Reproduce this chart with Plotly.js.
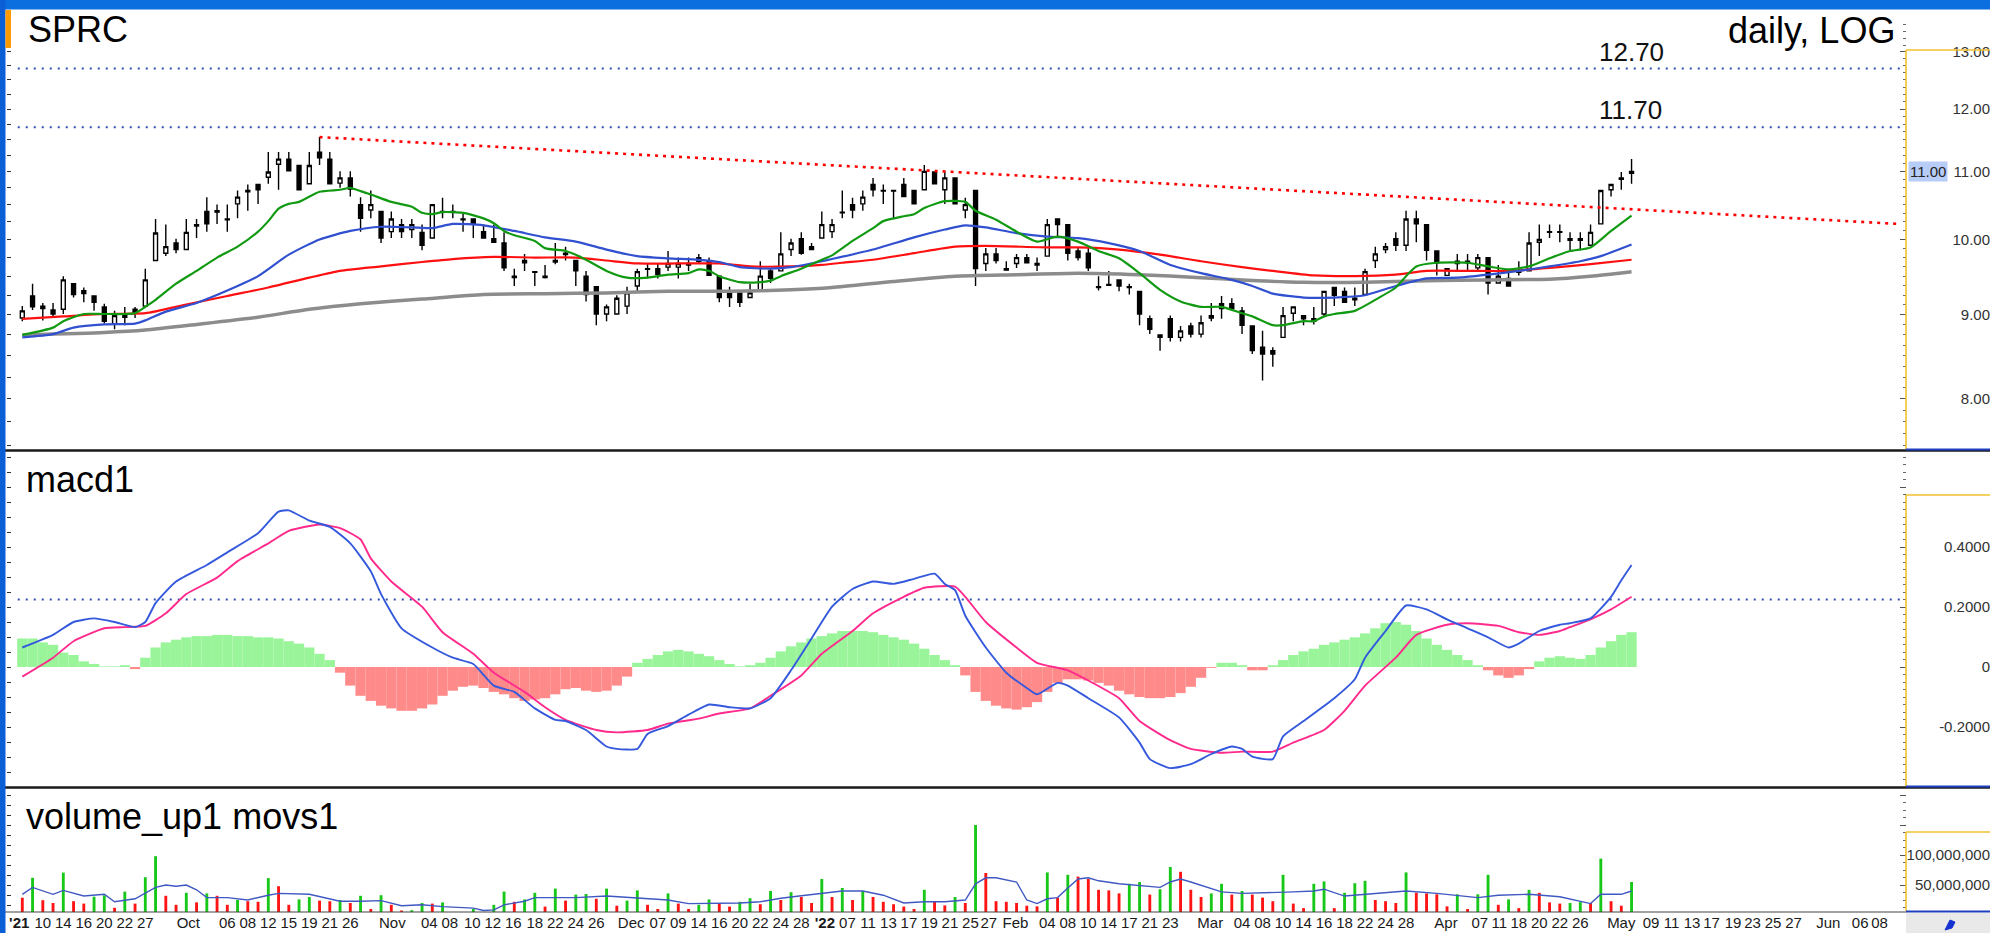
<!DOCTYPE html>
<html><head><meta charset="utf-8">
<script src="https://cdn.plot.ly/plotly-3.0.1.min.js"></script>
<style>html,body{margin:0;padding:0;overflow:hidden;background:#fff;width:1990px;height:933px}#chart{width:1990px;height:933px}</style>
</head><body><div id="chart"></div>
<script>
// ---------------- DATA (bar index 0 = first session shown) ----------------
const openP = [8.96,9.24,9.11,9.06,9.07,9.40,9.31,9.24,9.10,8.89,
8.97,9.07,9.11,9.71,9.81,9.95,9.86,10.21,10.40,10.41,
10.29,10.51,10.71,10.80,10.91,11.11,11.19,11.09,10.81,11.30,
11.19,10.82,10.90,10.50,10.42,10.40,10.11,10.21,10.14,10.10,
10.02,10.40,10.40,10.29,10.29,10.11,10.01,9.95,9.50,9.68,
9.56,9.50,9.71,9.81,9.71,9.50,9.36,9.01,9.01,9.11,
9.37,9.60,9.60,9.62,9.62,9.67,9.70,9.70,9.50,9.28,
9.28,9.22,9.31,9.57,9.57,9.86,10.01,9.90,10.02,10.11,
10.39,10.50,10.51,10.80,10.71,10.71,10.80,10.71,10.72,10.99,
10.72,10.90,10.42,10.71,9.67,9.80,9.60,9.67,9.75,9.67,
9.77,10.29,10.21,9.84,9.81,9.36,9.39,9.45,9.36,9.30,
8.95,8.72,8.95,8.72,8.86,8.76,8.96,9.14,9.14,9.05,
8.86,8.60,8.56,8.72,9.02,8.99,8.92,9.01,9.35,9.30,
9.21,9.26,9.71,9.86,10.01,9.92,10.29,10.21,9.84,9.51,
9.67,9.70,9.61,9.75,9.41,9.47,9.57,9.57,9.96,10.11,
10.11,10.01,10.01,9.92,10.22,10.72,10.88,10.97];
const highP = [9.11,9.40,9.15,9.15,9.50,9.41,9.35,9.24,9.14,9.05,
9.10,9.10,9.60,10.29,10.21,10.01,10.29,10.29,10.61,10.50,
10.50,10.71,10.80,10.80,11.30,11.30,11.30,11.09,11.30,11.54,
11.30,11.00,11.00,10.61,10.71,10.41,10.40,10.29,10.29,10.21,
10.50,10.60,10.50,10.39,10.29,10.21,10.21,10.10,9.60,9.80,
9.56,9.65,9.95,9.90,9.71,9.57,9.36,9.13,9.25,9.36,
9.60,9.67,9.67,9.84,9.75,9.75,9.80,9.75,9.50,9.36,
9.28,9.40,9.70,9.61,10.10,10.01,10.10,9.95,10.40,10.29,
10.71,10.60,10.71,10.90,10.80,10.71,10.90,10.71,11.10,10.99,
11.00,10.90,10.60,10.71,9.88,9.88,9.70,9.80,9.80,9.75,
10.29,10.29,10.21,9.88,9.88,9.50,9.57,9.45,9.40,9.30,
8.99,8.75,8.99,8.86,8.90,8.99,9.15,9.24,9.21,9.10,
8.86,8.80,8.60,9.10,9.10,8.99,9.10,9.30,9.35,9.35,
9.35,9.60,9.90,9.95,10.10,10.41,10.41,10.21,9.84,9.60,
9.80,9.80,9.80,9.75,9.65,9.57,9.70,10.10,10.21,10.21,
10.21,10.10,10.10,10.21,10.71,10.80,10.99,11.19];
const lowP = [8.92,9.06,8.93,8.98,9.01,9.22,9.16,9.05,8.89,8.82,
8.87,8.96,9.09,9.70,9.77,9.81,9.85,10.02,10.11,10.22,
10.11,10.30,10.41,10.51,10.81,10.72,11.01,10.72,10.81,11.10,
10.81,10.75,10.62,10.11,10.30,9.95,10.02,10.02,10.02,9.85,
10.02,10.30,10.30,10.11,10.02,10.02,9.96,9.57,9.37,9.57,
9.37,9.47,9.66,9.71,9.37,9.17,8.87,8.92,9.01,9.01,
9.30,9.47,9.47,9.57,9.47,9.57,9.67,9.51,9.16,9.10,
9.10,9.22,9.31,9.41,9.57,9.77,9.79,9.86,10.02,10.02,
10.30,10.30,10.41,10.62,10.51,10.30,10.62,10.51,10.72,10.81,
10.51,10.51,10.30,9.37,9.57,9.67,9.58,9.61,9.68,9.57,
9.77,10.02,9.71,9.71,9.57,9.31,9.37,9.30,9.26,8.87,
8.76,8.56,8.67,8.67,8.72,8.72,8.92,8.95,9.05,8.76,
8.52,8.21,8.37,8.72,8.92,8.87,8.88,8.97,9.11,9.16,
9.11,9.26,9.61,9.81,9.84,9.84,9.96,9.71,9.51,9.51,
9.57,9.57,9.57,9.26,9.41,9.37,9.51,9.57,9.77,10.02,
9.96,9.85,9.85,9.92,10.22,10.62,10.72,10.81];
const closeP = [9.05,9.10,9.08,9.01,9.45,9.26,9.27,9.16,8.92,8.99,
9.00,9.02,9.45,10.09,9.90,9.86,10.10,10.19,10.22,10.39,
10.28,10.61,10.69,10.72,10.99,11.19,11.01,10.72,11.09,11.21,
10.81,10.90,10.73,10.30,10.50,10.02,10.29,10.11,10.21,9.92,
10.50,10.39,10.39,10.28,10.22,10.02,9.96,9.61,9.48,9.71,
9.55,9.48,9.69,9.79,9.57,9.26,9.01,9.10,9.21,9.28,
9.56,9.59,9.52,9.67,9.67,9.65,9.75,9.51,9.22,9.22,
9.16,9.28,9.50,9.47,9.80,9.95,9.81,9.86,10.21,10.21,
10.38,10.42,10.61,10.72,10.70,10.70,10.62,10.51,11.00,10.81,
10.90,10.51,10.50,9.60,9.80,9.71,9.58,9.75,9.68,9.65,
10.21,10.21,9.81,9.75,9.61,9.35,9.38,9.37,9.35,9.01,
8.82,8.75,8.72,8.80,8.76,8.90,8.99,9.08,9.08,8.87,
8.56,8.52,8.52,8.99,9.10,8.95,8.95,9.30,9.25,9.16,
9.19,9.56,9.80,9.90,9.92,10.29,10.22,9.85,9.68,9.60,
9.70,9.68,9.75,9.41,9.50,9.37,9.55,9.95,10.00,10.10,
10.10,9.99,9.99,10.10,10.71,10.80,10.90,11.00];

// moving averages (bar index, price)
const maGreenX = [0,3,4,6,8,11,12,13,15,17,19,21,23,24,25,26,27,29,31,32,33,34,36,38,39,40,41,43,45,46,47,48,50,51,53,54,55,57,59,61,63,65,66,67,68,70,72,73,74,76,78,79,81,83,84,86,87,88,90,92,93,95,97,99,101,103,105,107,109,111,113,115,117,119,120,122,123,125,126,127,128,130,132,134,135,136,138,141,143,145,147,149,151,153,155,157];
const maGreenY = [8.75,8.84,8.92,9.01,9.01,9.02,9.10,9.19,9.40,9.57,9.75,9.90,10.11,10.26,10.44,10.51,10.54,10.69,10.72,10.75,10.70,10.65,10.54,10.47,10.38,10.36,10.39,10.38,10.30,10.23,10.12,10.06,9.98,9.88,9.84,9.79,9.72,9.57,9.48,9.48,9.52,9.54,9.59,9.57,9.50,9.42,9.42,9.44,9.50,9.60,9.72,9.78,9.98,10.16,10.26,10.33,10.36,10.45,10.55,10.54,10.41,10.28,10.11,9.97,10.04,9.97,9.84,9.74,9.54,9.32,9.17,9.10,9.10,9.02,8.98,8.87,8.87,8.92,8.92,8.98,9.01,9.05,9.19,9.35,9.50,9.63,9.68,9.68,9.63,9.59,9.63,9.74,9.84,9.89,10.12,10.34];
const maBlueX = [0,3,5,8,11,12,14,17,20,23,26,29,32,35,38,40,42,45,48,51,54,57,60,63,66,68,70,73,75,78,79,83,87,90,92,94,97,100,103,106,109,112,115,118,120,122,125,128,131,134,137,140,143,146,149,152,154,157];
const maBlueY = [8.72,8.76,8.84,8.88,8.89,8.93,9.04,9.15,9.31,9.50,9.79,10.00,10.12,10.18,10.17,10.16,10.22,10.20,10.12,10.03,9.97,9.86,9.77,9.74,9.72,9.69,9.62,9.60,9.62,9.70,9.73,9.86,10.03,10.14,10.20,10.17,10.09,10.04,10.02,9.95,9.84,9.65,9.54,9.45,9.37,9.27,9.22,9.22,9.25,9.37,9.47,9.48,9.52,9.57,9.63,9.70,9.77,9.93];
const maRedX = [0,4,8,12,16,20,24,28,31,35,39,42,46,50,54,57,60,64,68,71,75,78,80,83,87,91,94,100,103,107,111,115,119,122,126,130,134,137,141,145,149,153,157];
const maRedY = [8.95,8.98,9.01,9.02,9.13,9.24,9.35,9.48,9.57,9.63,9.69,9.73,9.76,9.75,9.75,9.71,9.67,9.67,9.67,9.63,9.63,9.65,9.68,9.72,9.81,9.90,9.91,9.89,9.89,9.86,9.79,9.70,9.62,9.57,9.51,9.50,9.52,9.57,9.57,9.57,9.61,9.66,9.72];
const maGreyX = [0,8,12,17,23,28,33,39,45,51,57,63,69,75,79,85,91,97,103,109,115,119,125,131,137,143,149,153,157];
const maGreyY = [8.75,8.78,8.81,8.88,8.97,9.07,9.14,9.20,9.26,9.27,9.28,9.30,9.30,9.32,9.35,9.43,9.50,9.52,9.54,9.52,9.48,9.45,9.42,9.42,9.44,9.45,9.46,9.50,9.56];

// horizontal price levels and the falling trendline
const priceLevels = [12.70, 11.70];
const trendX = [29, 183];
const trendY = [11.54, 10.22];

// MACD
const macdX = [0,3,5,7,9,11,12,13,15,18,20,23,25,26,28,30,32,34,35,37,40,42,44,46,48,50,52,53,55,57,58,60,61,63,65,67,69,71,73,75,77,79,81,83,85,87,89,90,91,92,94,96,98,99,101,102,104,107,109,110,112,114,116,118,119,120,122,123,125,128,130,131,133,135,137,139,141,143,145,146,148,150,151,153,155,156,157];
const macdY = [0.065,0.107,0.150,0.162,0.150,0.133,0.150,0.213,0.285,0.340,0.382,0.446,0.518,0.522,0.488,0.467,0.412,0.319,0.243,0.129,0.065,0.031,0.010,-0.062,-0.083,-0.138,-0.176,-0.180,-0.210,-0.265,-0.273,-0.273,-0.223,-0.197,-0.159,-0.125,-0.134,-0.138,-0.104,-0.011,0.095,0.201,0.260,0.285,0.277,0.294,0.311,0.277,0.256,0.171,0.065,-0.019,-0.070,-0.091,-0.053,-0.062,-0.104,-0.168,-0.252,-0.307,-0.337,-0.324,-0.290,-0.265,-0.273,-0.299,-0.307,-0.231,-0.180,-0.104,-0.041,0.031,0.120,0.205,0.192,0.159,0.129,0.099,0.065,0.078,0.120,0.141,0.146,0.162,0.234,0.289,0.340];
const signalX = [0,3,5,8,10,12,14,16,19,21,24,26,29,31,33,34,36,39,41,44,46,49,51,53,56,58,61,63,66,68,71,73,76,78,81,83,86,88,91,92,94,97,99,102,104,107,109,112,114,117,119,122,124,127,129,131,134,136,139,141,144,146,148,150,151,153,155,157];
const signalY = [-0.032,0.031,0.086,0.129,0.133,0.137,0.179,0.243,0.298,0.353,0.412,0.454,0.475,0.463,0.425,0.362,0.285,0.201,0.116,0.044,-0.019,-0.083,-0.134,-0.176,-0.210,-0.218,-0.210,-0.189,-0.172,-0.155,-0.138,-0.096,-0.028,0.044,0.120,0.179,0.234,0.264,0.268,0.234,0.150,0.065,0.014,-0.011,-0.045,-0.104,-0.180,-0.244,-0.273,-0.286,-0.282,-0.282,-0.252,-0.210,-0.146,-0.062,0.031,0.107,0.141,0.146,0.137,0.116,0.107,0.120,0.133,0.159,0.192,0.234];
const macdHist = [0.095,0.095,0.082,0.074,0.048,0.040,0.019,0.010,0.002,0.002,
0.006,-0.007,0.031,0.065,0.082,0.091,0.099,0.103,0.103,0.107,
0.107,0.103,0.103,0.099,0.099,0.095,0.086,0.078,0.065,0.044,
0.023,-0.019,-0.062,-0.096,-0.113,-0.129,-0.138,-0.146,-0.146,-0.138,
-0.125,-0.096,-0.079,-0.066,-0.062,-0.070,-0.083,-0.091,-0.104,-0.113,
-0.108,-0.104,-0.091,-0.074,-0.070,-0.079,-0.083,-0.079,-0.062,-0.032,
0.014,0.027,0.040,0.052,0.057,0.052,0.044,0.036,0.023,0.010,
0.002,0.006,0.014,0.031,0.052,0.069,0.082,0.095,0.103,0.112,
0.120,0.120,0.120,0.116,0.107,0.099,0.091,0.078,0.061,0.040,
0.023,0.006,-0.028,-0.083,-0.113,-0.129,-0.138,-0.142,-0.134,-0.117,
-0.083,-0.053,-0.041,-0.041,-0.045,-0.053,-0.062,-0.079,-0.091,-0.100,
-0.104,-0.104,-0.100,-0.087,-0.066,-0.036,-0.003,0.014,0.014,0.006,
-0.011,-0.011,0.006,0.023,0.040,0.052,0.061,0.074,0.082,0.091,
0.099,0.112,0.129,0.146,0.150,0.141,0.120,0.095,0.074,0.057,
0.040,0.023,0.006,-0.011,-0.028,-0.036,-0.028,-0.007,0.019,0.031,
0.036,0.031,0.027,0.040,0.065,0.086,0.107,0.116];
const macdLevel = 0.225;

// volume (millions of shares) and its moving average
const volumeM = [28.8,62,24.7,20,70.7,23,19,30.5,32.8,12,
39,19,63,98,32,17,37,21,36,32,
17,25,23,22,61.5,48,17,26,30,24,
23,25,20,32,10,33,17,7.5,8,20,
19,21,4,4.6,10,4,17,39,22,26,
37,14,44,24,34,35,27,44,15.5,24,
41,17,10,36,19,10,17,26,20,14,
22,28,18,40,25,38,30,20,60,30,
45,25,40,30,22,18,14,10,42,22,
16,30,20,150,70,23,22,20,15.5,14.4,
71,29,67,64,60,42,41,36,52,55,
34,43,80,72,42,30,36,52,34,40,
34,29,23,67,19,11.5,52,56,11.5,37,
53,57,25,23,20,71,37,36,34.5,14.4,
34.5,10,34.5,67,17,26,11.5,42,37,21,
19,20,21.5,20,94,23,15.5,55];
const volMaX = [0,1,3,4,6,8,9,11,13,14,15,16,17,18,20,22,24,25,28,30,31,33,35,37,39,41,44,45,46,47,49,50,52,54,57,59,61,63,65,66,68,70,72,74,76,78,80,82,84,86,88,90,92,93,94,95,96,97,98,99,100,101,102,103,104,105,107,109,111,112,113,114,117,119,122,124,126,127,129,132,135,138,142,144,147,150,153,154,156,157];
const volMaY = [34.5,46,34.5,41,31.6,34.5,22,27,46,50,48,50,42,29,29,25,33,36,34.5,26,23,23,24,15.5,17,14,11.5,7.5,8.6,17,23,29,29,29,31.6,29,27,25,19,19,20,20,22,28,32,36,40,40,33,20,22,22,25,52,62,62,58,55,25,19,27,29,45,60,62,57,52,49,46,55,60,55,38.5,36,37,38.5,40,43,31.6,36,40,36,29,33,34.5,30.5,19,34.5,34.5,40];

// x-axis tick labels (bar index position, text)
const tickPos = [-0.3,2,4,6,8,10,12,16.2,20,22,24,26,28,30,32,36.1,39.7,41.7,43.9,45.9,47.9,50,52,54,56,59.4,62,64,66,68,70,72,74,76,78.3,80.5,82.5,84.5,86.5,88.5,90.5,92.5,94.3,96.9,100,102,104,106,108,110,112,115.9,119,121,123,125,127,129,131,133,135,138.9,142.2,144.1,146,148,150,152,156,158.9,160.9,162.9,164.8,166.9,168.8,170.8,172.8,176.2,179.3,181.2];
const tickText = ["<b>'21</b>","10","14","16","20","22","27","Oct","06","08","12","15","19","21","26","Nov","04","08","10","12","16","18","22","24","26","Dec","07","09","14","16","20","22","24","28","<b>'22</b>","07","11","13","17","19","21","25","27","Feb","04","08","10","14","17","21","23","Mar","04","08","10","14","16","18","22","24","28","Apr","07","11","18","20","22","26","May","09","11","13","17","19","23","25","27","Jun","06","08"];

const priceTicks = [8, 9, 10, 11, 12, 13];
const macdTicks = [-0.2, 0, 0.2, 0.4];
const macdTickText = ['-0.2000', '0', '0.2000', '0.4000'];
const volTicks = [50, 100];
const volTickText = ['50,000,000', '100,000,000'];

// ---------------- LAYOUT GEOMETRY ----------------
const W = 1990, H = 933;
const fx = p => p / W;
const fy = p => 1 - p / H;
const FONT = 'Liberation Sans, Arial, Helvetica, sans-serif';
const idx = openP.map((_, i) => i);
const X0 = 12, X1 = 1906;           // plot area in px
const BAR = 10.25, BAR0 = 22.3;     // px per bar, px of first bar
const xRange = [(X0 - BAR0) / BAR, (X1 - BAR0) / BAR];
const spanX = [xRange[0] - 1, xRange[1] + 1];
const VB = 912;                      // bottom of the volume panel

const dotBlue = {color: '#2f4fae', width: 2, dash: '2px,6px'};
const traces = [];

// MACD panel
traces.push({type: 'bar', x: idx, y: macdHist, xaxis: 'x', yaxis: 'y2', width: 1,
  marker: {color: macdHist.map(v => v >= 0 ? '#9af59a' : '#ff8a8a'), line: {width: 0}}, hoverinfo: 'skip'});
traces.push({type: 'scatter', mode: 'lines', x: spanX, y: [macdLevel, macdLevel], xaxis: 'x', yaxis: 'y2', line: dotBlue, hoverinfo: 'skip'});
traces.push({type: 'scatter', mode: 'lines', x: signalX, y: signalY, xaxis: 'x', yaxis: 'y2',
  line: {color: '#ff2a8c', width: 1.9, shape: 'spline', smoothing: 0.5}, hoverinfo: 'skip'});
traces.push({type: 'scatter', mode: 'lines', x: macdX, y: macdY, xaxis: 'x', yaxis: 'y2',
  line: {color: '#3559dc', width: 1.9, shape: 'spline', smoothing: 0.5}, hoverinfo: 'skip'});

// price panel
traces.push({type: 'candlestick', x: idx, open: openP, high: highP, low: lowP, close: closeP, xaxis: 'x', yaxis: 'y',
  increasing: {line: {color: '#000', width: 1.4}, fillcolor: '#ffffff'},
  decreasing: {line: {color: '#000', width: 1.4}, fillcolor: '#000000'},
  whiskerwidth: 0, hoverinfo: 'skip'});
const maStyle = (c, w) => ({color: c, width: w, shape: 'spline', smoothing: 0.6});
traces.push({type: 'scatter', mode: 'lines', x: maGreyX, y: maGreyY, xaxis: 'x', yaxis: 'y', line: maStyle('#8c8c8c', 3.5), hoverinfo: 'skip'});
traces.push({type: 'scatter', mode: 'lines', x: maRedX, y: maRedY, xaxis: 'x', yaxis: 'y', line: maStyle('#ff1010', 2.2), hoverinfo: 'skip'});
traces.push({type: 'scatter', mode: 'lines', x: maBlueX, y: maBlueY, xaxis: 'x', yaxis: 'y', line: maStyle('#3150d0', 2.2), hoverinfo: 'skip'});
traces.push({type: 'scatter', mode: 'lines', x: maGreenX, y: maGreenY, xaxis: 'x', yaxis: 'y', line: maStyle('#119a11', 2.2), hoverinfo: 'skip'});
priceLevels.forEach(v => traces.push({type: 'scatter', mode: 'lines', x: spanX, y: [v, v], xaxis: 'x', yaxis: 'y', line: dotBlue, hoverinfo: 'skip'}));
traces.push({type: 'scatter', mode: 'lines', x: trendX, y: trendY, xaxis: 'x', yaxis: 'y',
  line: {color: '#ff0000', width: 2.6, dash: '3px,5px'}, hoverinfo: 'skip'});

// volume panel
traces.push({type: 'bar', x: idx, y: volumeM, xaxis: 'x', yaxis: 'y3', width: 0.28,
  marker: {color: volumeM.map((v, i) => (i > 0 && v > volumeM[i - 1]) ? '#18c818' : '#ff1414'), line: {width: 0}}, hoverinfo: 'skip'});
traces.push({type: 'scatter', mode: 'lines', x: volMaX, y: volMaY, xaxis: 'x', yaxis: 'y3',
  line: {color: '#4058c2', width: 1.4}, hoverinfo: 'skip'});

// invisible anchors so the overlay axes get drawn
[['y4', 10], ['y5', 0], ['y6', 50], ['y7', 10], ['y8', 0], ['y9', 50]].forEach(([ax, v]) =>
  traces.push({type: 'scatter', mode: 'markers', x: [0], y: [v], xaxis: 'x', yaxis: ax, marker: {opacity: 0}, hoverinfo: 'skip'}));

// ---------------- AXES ----------------
const priceRange = [1.1139 - (449 - 52) / 1646, 1.1139 + (52 - 10) / 1646];
const macdRange = [-(786 - 667) / 300, (667 - 453) / 300];
const volRange = [(915 - VB) / 30 * 50, (915 - 790) / 30 * 50];
const domP = [fy(449), fy(10)], domM = [fy(786), fy(453)], domV = [fy(VB), fy(790)];

const steps = (a, b, s) => { const r = []; for (let v = a; v <= b + 1e-9; v += s) r.push(+v.toFixed(4)); return r; };
const base = {showgrid: false, zeroline: false, showline: false, fixedrange: true};
const leftTicks = (dom, type, rng, tv) => Object.assign({}, base, {domain: dom, type: type, range: rng, anchor: 'x', side: 'left',
  showticklabels: false, ticks: 'outside', ticklen: 4, tickcolor: '#333', tickvals: tv});
const labelAx = (ov, type, rng, tv, tt) => Object.assign({}, base, {overlaying: ov, type: type, range: rng, anchor: 'free', position: 1, side: 'left',
  ticks: '', tickvals: tv, ticktext: tt, tickfont: {family: FONT, size: 15, color: '#333'}});
const rightTicks = (ov, type, rng, tv, minorTv) => Object.assign({}, base, {overlaying: ov, type: type, range: rng, anchor: 'free', position: fx(X1), side: 'right',
  showticklabels: false, ticks: 'inside', ticklen: 6, tickcolor: '#555', tickvals: tv,
  minor: {ticks: 'inside', ticklen: 3, tickcolor: '#666', tickvals: minorTv}});

const layout = {
  width: W, height: H, autosize: false,
  margin: {l: 0, r: 0, t: 0, b: 0, pad: 0},
  paper_bgcolor: '#ffffff', plot_bgcolor: '#ffffff',
  showlegend: false, hovermode: false, dragmode: false,
  boxgap: 0.45,
  font: {family: FONT, color: '#111'},
  xaxis: Object.assign({}, base, {domain: [fx(X0), fx(X1)], range: xRange, anchor: 'y3',
    tickvals: tickPos, ticktext: tickText, tickangle: 0, ticks: '',
    tickfont: {family: FONT, size: 15, color: '#1a1a1a'}, rangeslider: {visible: false}}),
  yaxis: leftTicks(domP, 'log', priceRange, steps(7.5, 13.75, 0.25)),
  yaxis2: leftTicks(domM, 'linear', macdRange, steps(-0.4, 0.7, 0.05)),
  yaxis3: leftTicks(domV, 'linear', volRange, steps(0, 200, 50 / 3)),
  yaxis4: labelAx('y', 'log', priceRange, priceTicks, priceTicks.map(v => v.toFixed(2))),
  yaxis5: labelAx('y2', 'linear', macdRange, macdTicks, macdTickText),
  yaxis6: labelAx('y3', 'linear', volRange, volTicks, volTickText),
  yaxis7: rightTicks('y', 'log', priceRange, priceTicks, steps(7.5, 13.5, 0.125)),
  yaxis8: rightTicks('y2', 'linear', macdRange, [-0.2, 0, 0.2, 0.4, 0.6], steps(-0.375, 0.7, 0.025)),
  yaxis9: rightTicks('y3', 'linear', volRange, [50, 100, 150, 200], steps(0, 210, 12.5)),
  shapes: [],
  annotations: []
};

// frame, panel separators and right-hand axis boxes
const S = layout.shapes;
const rect = (x0, y0, x1, y1, c) => S.push({type: 'rect', xref: 'paper', yref: 'paper', x0: fx(x0), x1: fx(x1), y0: fy(y1), y1: fy(y0), fillcolor: c, line: {width: 0}, layer: 'above'});
const hline = (x0, x1, y, c, w) => S.push({type: 'line', xref: 'paper', yref: 'paper', x0: fx(x0), x1: fx(x1), y0: fy(y), y1: fy(y), line: {color: c, width: w}, layer: 'above'});
const vline = (x, y0, y1, c, w) => S.push({type: 'line', xref: 'paper', yref: 'paper', x0: fx(x), x1: fx(x), y0: fy(y0), y1: fy(y1), line: {color: c, width: w}, layer: 'above'});
rect(X1, VB + 1, W, H, '#e9e9e9');
S.push({type: 'path', xref: 'paper', yref: 'paper', layer: 'above', fillcolor: '#1530d0', line: {color: '#1530d0', width: 1},
  path: `M ${fx(1945)} ${fy(930)} L ${fx(1950)} ${fy(920)} L ${fx(1955)} ${fy(922)} L ${fx(1952)} ${fy(928)} Z`});
hline(0, W, 450.5, '#1a1a1a', 2.5);
hline(0, W, 787.5, '#1a1a1a', 2.5);
hline(0, X1, VB, '#444', 1.2);
[[50, 449], [495, 786], [832, VB - 1]].forEach(([a, b]) => {
  vline(X1, a, b, '#f2c230', 1.6);
  hline(X1, W, a, '#f2c230', 1.6);
  hline(X1, W, b + 0.5, '#1f3fc0', 2.2);
});
rect(0, 0, W, 9.5, '#0b6fe0');
rect(0, 0, 5.5, H, '#0a5fd6');
rect(5.5, 10, 11, 48, '#ff9a00');

// texts
const A = layout.annotations;
const txt = (t, x, y, size, anchor) => A.push({text: t, xref: 'paper', yref: 'paper', x: fx(x), y: fy(y), xanchor: anchor, yanchor: 'middle',
  showarrow: false, font: {family: FONT, size: size, color: '#000'}});
txt('SPRC', 26, 29.5, 36, 'left');
txt('daily, LOG', 1897, 31, 36, 'right');
txt('macd1', 24, 479, 36, 'left');
txt('volume_up1 movs1', 24, 816, 36, 'left');
priceLevels.forEach(v => A.push({text: v.toFixed(2), xref: 'paper', yref: 'y', x: fx(1597), y: Math.log10(v), xanchor: 'left', yanchor: 'bottom',
  yshift: 0, showarrow: false, font: {family: FONT, size: 26, color: '#111'}}));
const lastClose = closeP[closeP.length - 1];
A.push({text: lastClose.toFixed(2), xref: 'paper', yref: 'y', x: fx(X1 + 2), y: Math.log10(lastClose), xanchor: 'left', yanchor: 'middle',
  showarrow: false, bgcolor: '#b7ccf6', borderpad: 1, font: {family: FONT, size: 15, color: '#222'}});

Plotly.newPlot('chart', traces, layout, {staticPlot: true, displayModeBar: false});
</script></body></html>
